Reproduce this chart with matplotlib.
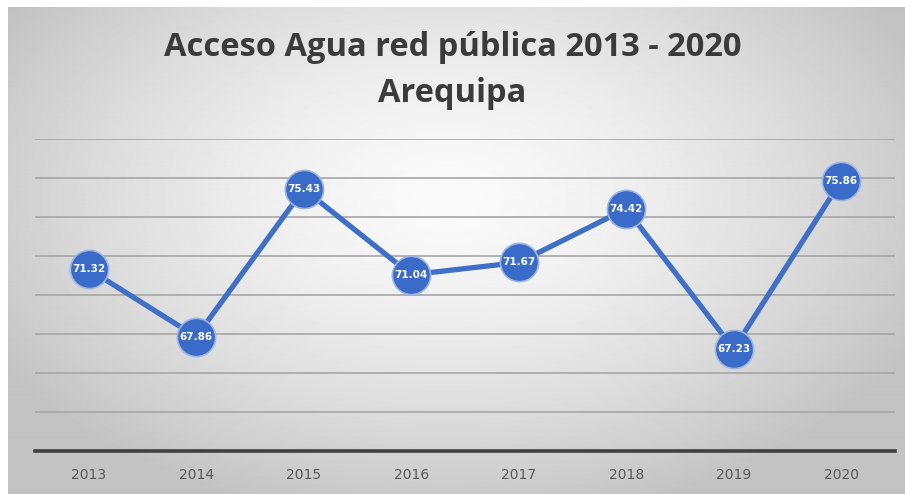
import numpy as np
import matplotlib
matplotlib.use("Agg")
import matplotlib.pyplot as plt

years = ["2013", "2014", "2015", "2016", "2017", "2018", "2019", "2020"]
acceso = [71.32, 67.86, 75.43, 71.04, 71.67, 74.42, 67.23, 75.86]
y_ticks = [62, 64, 66, 68, 70, 72, 74, 76, 78]

W, H = 905, 494
fig = plt.figure(figsize=(W / 100, H / 100), dpi=100)
fig.patch.set_facecolor("white")

# radial grey gradient behind the chart
bg = fig.add_axes([8 / W, 0, (W - 8) / W, (H - 7) / H])
bg.axis("off")
yy, xx = np.mgrid[0:487, 0:897]
r = np.sqrt(((xx - 440) / 540.0) ** 2 + ((yy - 190) / 340.0) ** 2)
shade = np.clip(250 - 58 * r ** 1.5, 195, 250) / 255.0
bg.imshow(shade, cmap="gray", vmin=0, vmax=1, aspect="auto", interpolation="bilinear")

ax = fig.add_axes([35 / W, 1 - 451 / H, 860 / W, (451 - 139) / H])
ax.set_facecolor("none")
x = np.arange(len(years))
ax.set_xlim(-0.5, len(years) - 0.5)
ax.set_ylim(y_ticks[0], y_ticks[-1])
ax.set_yticks(y_ticks)
ax.yaxis.grid(True, color="#a6a6a6", lw=1.2)
ax.set_axisbelow(True)
for s in ["top", "right", "left"]:
    ax.spines[s].set_visible(False)
ax.spines["bottom"].set_color("#404040")
ax.spines["bottom"].set_linewidth(2.6)
ax.tick_params(axis="y", left=False, labelleft=False)
ax.tick_params(axis="x", length=0, pad=12, labelsize=10, labelcolor="#595959")
ax.set_xticks(x)
ax.set_xticklabels(years)

ax.plot(x, acceso, color="#3f6fc6", lw=3.8, marker="o", markersize=27.5,
        markerfacecolor="#3a6bc8", markeredgecolor="#9db4e0", markeredgewidth=1.2,
        zorder=3, solid_capstyle="round")
for xi, v in zip(x, acceso):
    ax.text(xi, v, f"{v:.2f}", ha="center", va="center", color="white",
            fontsize=7.5, fontweight="bold", zorder=4)

title_kw = dict(ha="center", va="center", fontsize=23.5, fontweight="bold",
                color="#3b3b3b", family="Open Sans")
fig.text(0.5, 1 - 47 / H, "Acceso Agua red pública 2013 - 2020", **title_kw)
fig.text(0.5, 1 - 94 / H, "Arequipa", **title_kw)

fig.savefig("out.png", dpi=100)
